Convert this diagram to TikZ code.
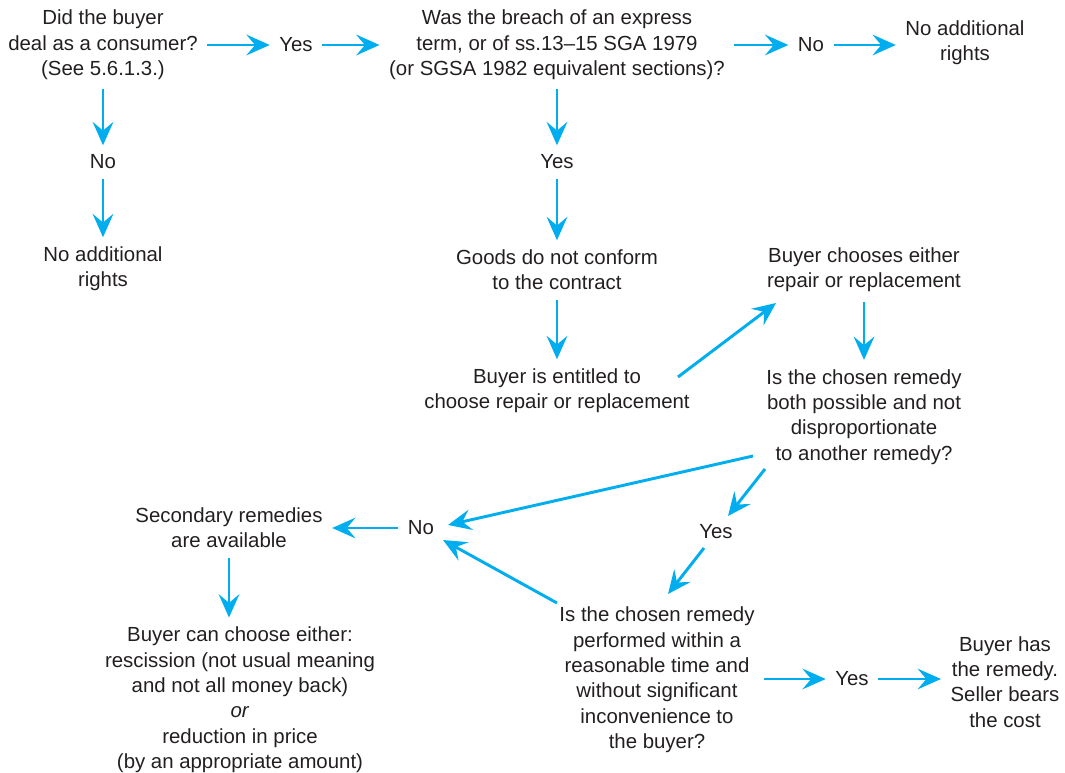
\documentclass[tikz,border=0pt]{standalone}
\usepackage{fontspec}
\setmainfont{Liberation Sans}
\usetikzlibrary{arrows.meta, positioning}
\definecolor{flowblue}{HTML}{00AEEF}
\definecolor{inkgrey}{HTML}{231F20}

\begin{document}
\begin{tikzpicture}[
    x=0.75pt, y=-0.75pt,
    >={Stealth[length=17.5pt, width=15.5pt, inset=6.5pt]},
    txt/.style={align=center, inner sep=7pt, text=inkgrey,
      font=\fontsize{15.3}{19}\selectfont},
    flow/.style={->, draw=flowblue, line width=2.2pt}
  ]
  \useasboundingbox (0,0) rectangle (1065,772);

  % Top row
  \node[txt] (consumer) at (103,45) {Did the buyer\\deal as a consumer?\\(See 5.6.1.3.)};
  \node[txt] (yesA) at (296,45) {Yes};
  \node[txt] (breach) at (557,45) {Was the breach of an express\\term, or of ss.13--15 SGA 1979\\(or SGSA 1982 equivalent sections)?};
  \node[txt] (noA) at (811,45) {No};
  \node[txt] (norightsA) at (965,43) {No additional\\rights};

  % Left column
  \node[txt] (noB) at (103,162) {No};
  \node[txt] (norightsB) at (103,269) {No additional\\rights};

  % Middle column
  \node[txt] (yesB) at (557,162) {Yes};
  \node[txt] (goods) at (557,270) {Goods do not conform\\to the contract};
  \node[txt] (entitled) at (557,391) {Buyer is entitled to\\choose repair or replacement};

  % Right column
  \node[txt] (chooses) at (864,270) {Buyer chooses either\\repair or replacement};
  \node[txt] (possible) at (864,417) {Is the chosen remedy\\both possible and not\\disproportionate\\to another remedy?};
  \node[txt] (yesC) at (716,532) {Yes};
  \node[txt] (noC) at (421,528) {No};

  % Bottom
  \node[txt] (secondary) at (229,528) {Secondary remedies\\are available};
  \node[txt] (either) at (240,700) {Buyer can choose either:\\rescission (not usual meaning\\and not all money back)\\\textit{or}\\reduction in price\\(by an appropriate amount)};
  \node[txt] (timely) at (657,680) {Is the chosen remedy\\performed within a\\reasonable time and\\without significant\\inconvenience to\\the buyer?};
  \node[txt] (yesD) at (852,679) {Yes};
  \node[txt] (remedy) at (1005,682) {Buyer has\\the remedy.\\Seller bears\\the cost};

  % Straight arrows
  \draw[flow] (consumer) -- (yesA);
  \draw[flow] (yesA) -- (breach);
  \draw[flow] (breach.east |- noA) -- (noA);
  \draw[flow] (noA) -- (norightsA.west |- noA);
  \draw[flow] (consumer) -- (noB);
  \draw[flow] (noB) -- (norightsB);
  \draw[flow] (breach) -- (yesB);
  \draw[flow] (yesB) -- (goods);
  \draw[flow] (goods) -- (entitled);
  \draw[flow] (chooses) -- (possible);
  \draw[flow] (noC) -- (secondary);
  \draw[flow] (secondary) -- (secondary.south |- either.north);
  \draw[flow] (timely.east |- yesD) -- (yesD);
  \draw[flow] (yesD) -- (remedy.west |- yesD);

  % Slanted arrows
  \draw[flow] ([shift={(121,-14)}]entitled.center) -- ([shift={(-88,33)}]chooses.center);
  \draw[flow] ([shift={(-111,39)}]possible.center) -- ([shift={(27,-3)}]noC.center);
  \draw[flow] ([shift={(-99,52)}]possible.center) -- ([shift={(12,-16)}]yesC.center);
  \draw[flow] ([shift={(-12,16)}]yesC.center) -- ([shift={(11,-86)}]timely.center);
  \draw[flow] ([shift={(-100,-77)}]timely.center) -- ([shift={(22,12)}]noC.center);
\end{tikzpicture}
\end{document}
